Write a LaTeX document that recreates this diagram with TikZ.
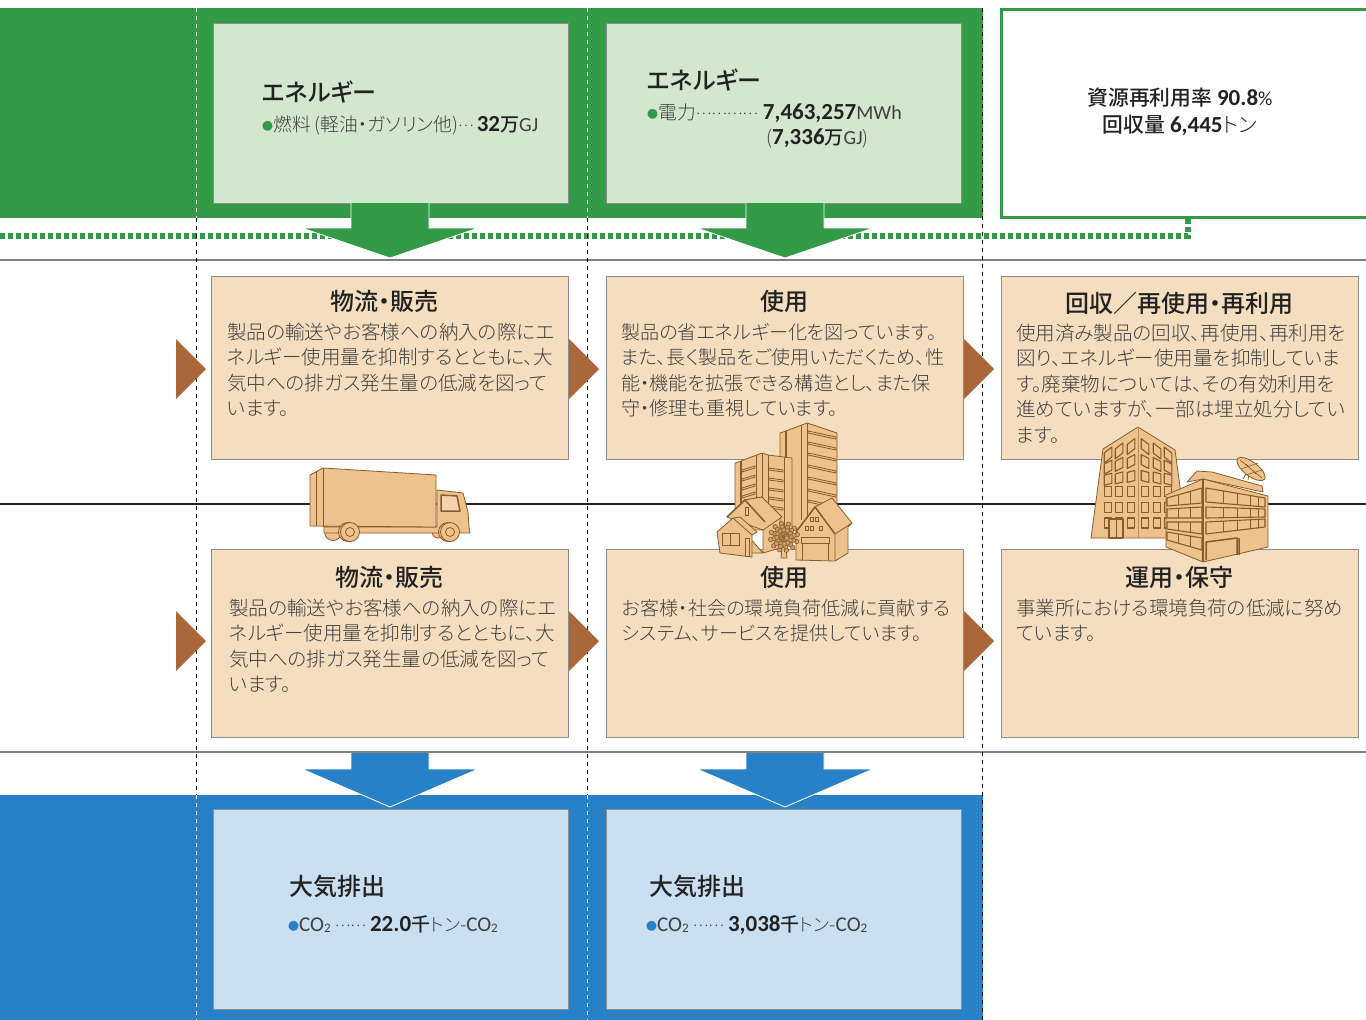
\documentclass[tikz,border=0pt]{standalone}
\usepackage{fontspec}
\setmainfont{Noto Sans CJK JP}[RawFeature=+palt]
\newfontfamily\lightfont{Noto Sans CJK JP Light}[RawFeature=+palt]
\newfontfamily\headfont{Noto Sans CJK JP Medium}[RawFeature=+palt]
\newfontfamily\numfont{Carlito}
\usetikzlibrary{positioning,calc}

\definecolor{bandgreen}{HTML}{339A48}
\definecolor{boxgreen}{HTML}{D2E7CD}
\definecolor{bandblue}{HTML}{2880C6}
\definecolor{boxblue}{HTML}{CBDFF2}
\definecolor{boxtan}{HTML}{F5DEBF}
\definecolor{sidebrown}{HTML}{A9673A}
\definecolor{arttan}{HTML}{EEC28C}
\definecolor{artline}{HTML}{8A5A2B}
\definecolor{bodygray}{HTML}{3F3F3F}
\definecolor{inkdark}{HTML}{222222}

\newcommand{\nb}[1]{{\numfont\bfseries\color{inkdark}\fontsize{23}{24}\selectfont #1}}
\newcommand{\nk}[1]{{\headfont\color{inkdark}\fontsize{19}{24}\selectfont #1}}
\newcommand{\nl}[1]{{\numfont\fontsize{20}{24}\selectfont #1}}
\newcommand{\dotbullet}[1]{{\fontsize{11}{11}\selectfont\color{#1}\raisebox{0.5pt}{●}}}
\newcommand{\cotwo}{\nl{\fontsize{21}{24}\selectfont CO{\fontsize{13}{13}\selectfont\raisebox{-1.5pt}{2}}}}

\tikzset{
  greybox/.style={rectangle, draw=black!45, line width=0.9pt, inner sep=0pt},
  greenbox/.style={greybox, fill=boxgreen, minimum width=355pt, minimum height=180pt},
  bluebox/.style={greybox, fill=boxblue, minimum width=355pt, minimum height=200pt},
  tanbox/.style={greybox, fill=boxtan, minimum width=357pt},
  headtext/.style={anchor=base, inner sep=0pt, font=\headfont\fontsize{24}{26}\selectfont, text=inkdark},
  headleft/.style={headtext, anchor=base west},
  ratetext/.style={headtext, font=\headfont\fontsize{20.8}{27}\selectfont},
  bodytext/.style={anchor=north west, inner sep=0pt, align=left, text=bodygray, font=\lightfont\fontsize{19.55}{25.4}\selectfont},
  narrowbody/.style={bodytext, font=\lightfont\fontsize{19.1}{25.4}\selectfont},
  linetext/.style={anchor=base west, inner sep=0pt, text=bodygray, font=\lightfont\fontsize{18.8}{24}\selectfont},
  flowarrow/.style={draw=white, line width=0.8pt},
  sidearrow/.style={fill=sidebrown},
  rowline/.style={line width=1.2pt},
  columnline/.style={line width=1pt, dash pattern=on 4pt off 4pt},
  artpart/.style={fill=arttan, draw=artline, line width=0.8pt, line join=round},
  artthick/.style={draw=artline, line width=1.5pt, line join=round},
  artpane/.style={draw=artline, line width=1.1pt, line join=round}
}

\begin{document}
\begin{tikzpicture}[x=1pt, y=-1pt]
    \useasboundingbox (0,0) rectangle (1366,1020);

    % bands and rules
    \fill[bandgreen] (0,8) rectangle (983,218);
    \fill[bandblue] (0,795) rectangle (983,1020);
    \draw[rowline, black!50] (0,260) -- (1366,260);
    \draw[rowline, black!85] (0,504) -- (1366,504);
    \draw[rowline, black!50] (0,752) -- (1366,752);

    % dotted return line
    \node[draw=bandgreen, line width=3pt, fill=white, minimum width=370pt, minimum height=208pt, anchor=north west, inner sep=0pt] (rate) at (1000,7.5) {};
    \coordinate (ratefoot) at (1188,219);
    \draw[bandgreen, line width=5.5pt, dash pattern=on 5pt off 3pt] (0,236) -- (1188,236) -- (ratefoot);

    % dashed columns
    \foreach \x in {196,587} {
      \draw[columnline, white] (\x,8) -- (\x,218);
      \draw[columnline, black] (\x,218) -- (\x,795);
      \draw[columnline, white] (\x,795) -- (\x,1020);
    }
    \draw[columnline, black] (982,8) -- (982,1020);

    % boxes
    \node[greenbox] (fuel) at (390.5,113) {};
    \node[greenbox] (power) at (783.5,113) {};
    \node[tanbox, minimum height=183pt] (salesup) at (390,367.5) {};
    \node[tanbox, minimum height=183pt] (useup) at (785,367.5) {};
    \node[tanbox, minimum height=183pt] (recycle) at (1179.5,367.5) {};
    \node[tanbox, minimum height=188pt] (salesdown) at (390,643) {};
    \node[tanbox, minimum height=188pt] (usedown) at (785,643) {};
    \node[tanbox, minimum height=188pt] (upkeep) at (1179.5,643) {};
    \node[bluebox] (airleft) at (390.5,909) {};
    \node[bluebox] (airright) at (783.5,909) {};

    % block arrows
    \foreach \x in {390,785} {
      \draw[flowarrow, fill=bandgreen] (\x-39,203) -- (\x-39,228) -- (\x-88,228) -- (\x,258) -- (\x+88,228) -- (\x+39,228) -- (\x+39,203);
      \draw[flowarrow, fill=bandblue] (\x-39,753) -- (\x-39,769) -- (\x-88,769) -- (\x,807) -- (\x+88,769) -- (\x+39,769) -- (\x+39,753);
    }
    \foreach \x in {176,569,964}
      \foreach \y in {369,641}
        \fill[sidearrow] (\x,\y-30) -- (\x+30,\y) -- (\x,\y+30) -- cycle;

    % supply and emission labels
    \node[headleft] (fuelhead) at (262,101) {エネルギー};
    \node[linetext] (fuelline) at (262,131) {\dotbullet{bandgreen}燃料 (軽油・ガソリン他){\fontsize{15}{20}\selectfont\raisebox{4.5pt}{…}}\,\nb{32}\nk{万}\nl{GJ}};
    \node[headleft] (powerhead) at (647,89) {エネルギー};
    \node[linetext] (powerline) at (647,119) {\dotbullet{bandgreen}電力{\fontsize{15}{20}\selectfont\raisebox{4.5pt}{…………}}\hspace{5pt}\nb{7,463,257}\nl{MWh}};
    \node[linetext] (powerjoule) at (766,144) {(\nb{7,336}\nk{万}\nl{GJ})};
    \node[ratetext] (ratefirst) at (1180,105) {資源再利用率 \nb{90.8}{\lightfont\nl{\%}}};
    \node[ratetext] (ratesecond) at (1180,132) {回収量 \nb{6,445}{\lightfont トン}};
    \node[headleft] (airlefthead) at (289,895) {大気排出};
    \node[linetext] (airleftline) at (288,931) {\dotbullet{bandblue}\cotwo\ {\fontsize{15}{20}\selectfont\raisebox{4.5pt}{……}}\ \nb{22.0}\nk{千}{\fontsize{18}{24}\selectfont トン}-\cotwo};
    \node[headleft] (airrighthead) at (649,895) {大気排出};
    \node[linetext] (airrightline) at (646,931) {\dotbullet{bandblue}\cotwo\ {\fontsize{15}{20}\selectfont\raisebox{4.5pt}{……}}\ \nb{3,038}\nk{千}{\fontsize{18}{24}\selectfont トン}-\cotwo};

    % process texts
    \node[headtext] (salesuphead) at (384,310) {物流・販売};
    \node[bodytext] (salesupbody) at (227,323) {製品の輸送やお客様への納入の際にエ\\ネルギー使用量を抑制するとともに、大\\気中への排ガス発生量の低減を図って\\います。};
    \node[headtext] (useuphead) at (784,310) {使用};
    \node[narrowbody] (useupbody) at (621,323) {製品の省エネルギー化を図っています。\\また、長く製品をご使用いただくため、性\\能・機能を拡張できる構造とし、また保\\守・修理も重視しています。};
    \node[headtext] (recyclehead) at (1179,312) {回収／再使用・再利用};
    \node[bodytext] (recyclebody) at (1016,324) {使用済み製品の回収、再使用、再利用を\\図り、エネルギー使用量を抑制していま\\す。廃棄物については、その有効利用を\\進めていますが、一部は埋立処分してい\\ます。};
    \node[headtext] (salesdownhead) at (389,586) {物流・販売};
    \node[bodytext] (salesdownbody) at (229,599) {製品の輸送やお客様への納入の際にエ\\ネルギー使用量を抑制するとともに、大\\気中への排ガス発生量の低減を図って\\います。};
    \node[headtext] (usedownhead) at (784,586) {使用};
    \node[narrowbody] (usedownbody) at (622,599) {お客様・社会の環境負荷低減に貢献する\\システム、サービスを提供しています。};
    \node[headtext] (upkeephead) at (1179,586) {運用・保守};
    \node[bodytext] (upkeepbody) at (1016,599) {事業所における環境負荷の低減に努め\\ています。};

    % truck
    \draw[artpart] (333,532) circle (8.5);
    \draw[artpart] (438,532) circle (6);
    \draw[artpart] (437,490) -- (463,493) -- (468,512) -- (469,527) -- (470,533) -- (324,533) -- (324,527) -- (437,527) -- cycle;
    \draw[artthick, fill=boxtan!60!arttan] (441,495) -- (457,496) -- (460,511) -- (441,511) -- cycle;
    \draw[artpart] (310,475) -- (323,468) -- (436,475) -- (436,527) -- (310,526) -- cycle;
    \draw[artline, line width=0.8pt] (316,472) -- (316,526) (323,468) -- (323,527);
    \foreach \x in {350,450} {
      \draw[artpart] (\x-2,532) circle (9.5);
      \draw[artpart] (\x,532) circle (9.5);
      \draw[artpart] (\x,532) circle (4.5);
    }

    % towers and houses
    \draw[artpart] (780,433) -- (786,431) -- (807,423) -- (837,433) -- (837,510) -- (807,530) -- (780,530) -- cycle;
    \draw[artthick] (786,431) -- (786,520);
    \draw[artline, line width=0.8pt] (801,425) -- (801,520) (807,423) -- (807,520);
    \foreach \y in {431,442,453,465,477,489,500}
      \draw[artpart] (808,\y) -- (836,\y+6) -- (836,\y+8) -- (808,\y+2) -- cycle;
    \draw[artpart] (735,463) -- (741,461) -- (762,453) -- (768,455) -- (792,458) -- (792,530) -- (735,530) -- cycle;
    \draw[artthick] (741,461) -- (741,520);
    \draw[artline, line width=0.8pt] (756,455) -- (756,510) (762,453) -- (762,510) (768,455) -- (768,510) (784,457) -- (784,530);
    \foreach \y in {470,479,488,496,505}
      \draw[artpart] (742,\y) -- (755,\y-4) -- (755,\y-2) -- (742,\y+2) -- cycle;
    \foreach \y in {468,478,488,497,506}
      \draw[artpart] (769,\y) -- (783,\y+2) -- (783,\y+4) -- (769,\y+2) -- cycle;
    \draw[artpart] (732,518) -- (745,500) -- (763,522) -- (763,553) -- (780,548) -- (780,517) -- (762,497) -- (745,500) -- (732,518) -- (732,553) -- (763,553) -- cycle;
    \draw[artpart] (745,500) -- (727,517) -- (763,530) -- (782,517) -- (762,497) -- cycle;
    \draw[artthick] (727,517) -- (745,500) -- (765,522);
    \draw[artpart] (745,507) rectangle (748,515);
    \draw[artpart] (717,532) -- (733,518) -- (752,532) -- (752,557) -- (720,553) -- cycle;
    \draw[artpart] (733,518) -- (740,517) -- (757,532) -- (752,535) -- cycle;
    \draw[artpart] (722,533) rectangle (739,545);
    \draw[artline, line width=0.8pt] (730,533) -- (730,545);
    \draw[artpart] (745,538) rectangle (749,556);
    \draw[artpart] (815,507) -- (832,498) -- (852,523) -- (848,527) -- (848,553) -- (835,561) -- (796,560) -- (796,532) -- cycle;
    \draw[artthick] (796,532) -- (815,507) -- (835,534);
    \draw[artline, line width=0.8pt] (835,534) -- (852,523) (835,534) -- (835,561);
    \draw[artpart] (801,537) -- (829,537) -- (829,543) -- (801,543) -- cycle;
    \draw[artline, line width=0.8pt] (802,543) -- (802,560) (828,543) -- (828,560);
    \foreach \x/\y in {812/519,817/519,807/528,821/528,812/528}
      \draw[artline, line width=0.8pt] (\x-1.5,\y-2) rectangle (\x+1.5,\y+2);

    % tree
    \draw[artpart] (782,548) -- (781,558) -- (787,558) -- (786,548);
    \foreach \a in {0,30,...,330}
      \foreach \r in {3,7,10,13.5}
        \draw[artline, fill=arttan!65!artline, line width=0.6pt] ($(784,537)+(\a+\r*17:\r)$) circle (2.3);

    % office block
    \draw[artpart] (1138,427) -- (1103,449) -- (1091,538) -- (1180,538) -- (1180,487) -- (1175,450) -- cycle;
    \draw[artline!50!arttan, line width=0.5pt] (1138,427) -- (1138,538);
    \foreach \r in {0,...,5}
      \foreach \o in {7,19,30} {
        \pgfmathsetmacro{\yw}{444+\r*15.8+\o/30*11*max(0,1-\r/3)}
        \pgfmathsetmacro{\sk}{3*max(0,1-\r/3)}
        \draw[artpane] (1138-\o-3.8,\yw-5+\sk) -- (1138-\o+3.8,\yw-5-\sk) -- (1138-\o+3.8,\yw+5-\sk) -- (1138-\o-3.8,\yw+5+\sk) -- cycle;
        \draw[artpane] (1138+\o-3.8,\yw-5-\sk) -- (1138+\o+3.8,\yw-5+\sk) -- (1138+\o+3.8,\yw+5+\sk) -- (1138+\o-3.8,\yw+5-\sk) -- cycle;
      }
    \draw[artpart, artpane] (1109,519) rectangle (1123,538);
    \draw[artline, line width=0.7pt] (1116,519) -- (1116,538);
    \draw[artline, line width=0.8pt] (1243,479) -- (1250,467) -- (1248,480);
    \draw[artpart] (1251,469) ellipse [x radius=17, y radius=7, rotate=-37];
    \draw[artline, line width=0.6pt] (1240,460) -- (1262,478) (1246,464) -- (1256,474) (1241,469) -- (1258,463) (1246,475) -- (1262,470);
    \draw[artpart] (1187,482) -- (1197,471) -- (1212,472) -- (1262,486) -- (1263,492) -- (1203,479) -- cycle;
    \draw[artpart] (1166,495) -- (1203,479) -- (1268,496) -- (1268,547) -- (1203,562) -- (1166,547) -- cycle;
    \draw[artthick] (1203,479) -- (1203,562);
    \foreach \a/\b/\c/\d in {498/488/503/506,509/507/518/518,522/522/534/529,532/538/550/540} {
      \draw[artpane] (1167,\a) -- (1202,\b) -- (1202,\c) -- (1167,\d) -- cycle;
      \draw[artline, line width=0.8pt] (1178,\a/1+\b/3-\a/3) -- (1178,\d/1+\c/3-\d/3) (1190,\a/3+\b*2/3) -- (1190,\d/3+\c*2/3);
    }
    \foreach \a/\b/\c/\d in {488/498/507/502,507/509/517/518,522/519/527/534} {
      \draw[artpane] (1206,\a) -- (1265,\b) -- (1265,\c) -- (1206,\d) -- cycle;
      \foreach \f in {0.29,0.54,0.75,0.88}
        \draw[artline, line width=0.8pt] (1206+59*\f,\a+\b*\f-\a*\f) -- (1206+59*\f,\d+\c*\f-\d*\f);
    }
    \draw[artthick] (1206,560) -- (1206,542) -- (1237,538) -- (1237,555) (1239,538) -- (1239,555);

\end{tikzpicture}
\end{document}
